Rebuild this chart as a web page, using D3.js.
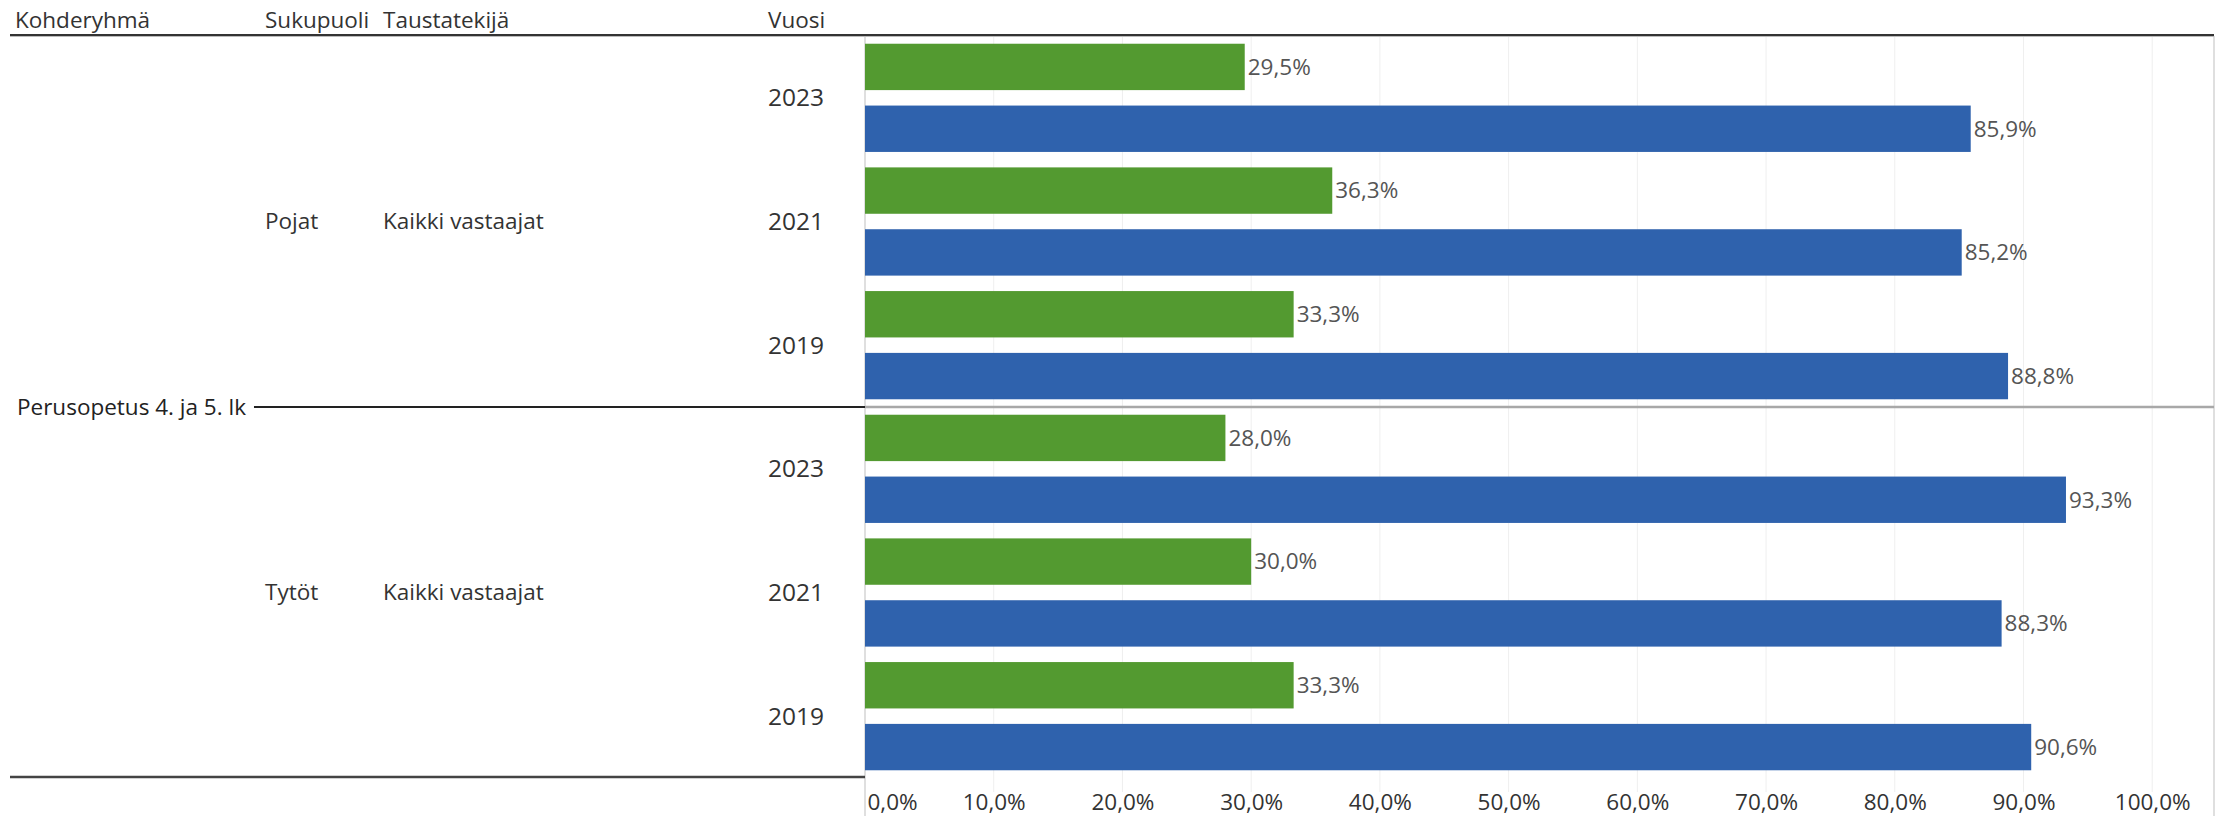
<!DOCTYPE html>
<html>
<head>
<meta charset="utf-8">
<script src="https://cdn.jsdelivr.net/npm/d3@7"></script>
<style>
  html, body { margin: 0; padding: 0; background: #ffffff; }
  svg { display: block; }
  text { font-family: "Open Sans", "Noto Sans", sans-serif; }
</style>
</head>
<body>
<svg id="chart" width="2223" height="816"></svg>
<script>
// ---- Data ----
const targetGroup = "Perusopetus 4. ja 5. lk";
const genders = ["Pojat", "Tytöt"];
const background = "Kaikki vastaajat";
const years = ["2023", "2021", "2019"];
const headers = ["Kohderyhmä", "Sukupuoli", "Taustatekijä", "Vuosi"];
// green series (upper bar in each year) and blue series (lower bar), percent
const greenPojat = [29.5, 36.3, 33.3];
const bluePojat  = [85.9, 85.2, 88.8];
const greenTytot = [28.0, 30.0, 33.3];
const blueTytot  = [93.3, 88.3, 90.6];
const tickValues = [0, 10, 20, 30, 40, 50, 60, 70, 80, 90, 100];

const greenColor = "#539a30";
const blueColor = "#2f62ad";
const FS = 22.5;

// build rows
const rows = [];
genders.forEach((g, gi) => {
  const gv = gi === 0 ? greenPojat : greenTytot;
  const bv = gi === 0 ? bluePojat : blueTytot;
  years.forEach((y, yi) => {
    rows.push({gender: g, year: y, series: "green", value: gv[yi]});
    rows.push({gender: g, year: y, series: "blue", value: bv[yi]});
  });
});
rows.forEach((r, i) => r.key = i);

const svg = d3.select("#chart");
const panelLeft = 865, panelTop = 36, panelBottom = 778;
const xMax = 104.8;
const x = d3.scaleLinear().domain([0, xMax]).range([panelLeft, 2214]);
const y = d3.scaleBand().domain(rows.map(r => r.key)).range([panelTop, panelBottom])
  .paddingInner(0.25).paddingOuter(0.125);
const half = (panelBottom - panelTop) / 2;
const midY = panelTop + half;

const fmt = v => d3.format(".1f")(v).replace(".", ",") + "%";

// gridlines
svg.append("g").selectAll("line").data(tickValues.filter(t => t > 0)).join("line")
  .attr("x1", d => x(d)).attr("x2", d => x(d))
  .attr("y1", panelTop).attr("y2", 792)
  .attr("stroke", "#efefef").attr("stroke-width", 1);

// panel borders
svg.append("line").attr("x1", panelLeft).attr("x2", panelLeft)
  .attr("y1", panelTop).attr("y2", 816).attr("stroke", "#d4d4d4").attr("stroke-width", 1.5);
svg.append("line").attr("x1", x(xMax)).attr("x2", x(xMax))
  .attr("y1", panelTop).attr("y2", 816).attr("stroke", "#d4d4d4").attr("stroke-width", 1.5);

// header line
svg.append("line").attr("x1", 10).attr("x2", x(xMax)).attr("y1", 35).attr("y2", 35)
  .attr("stroke", "#333").attr("stroke-width", 2);
svg.append("line").attr("x1", 10).attr("x2", x(xMax)).attr("y1", 36.5).attr("y2", 36.5)
  .attr("stroke", "#bbb").attr("stroke-width", 1);

// headers
const headerX = [15, 265, 383, 768];
svg.append("g").selectAll("text").data(headers).join("text")
  .attr("x", (d, i) => headerX[i]).attr("y", 28)
  .attr("font-size", FS).attr("fill", "#333").text(d => d);

// bars
svg.append("g").selectAll("rect").data(rows).join("rect")
  .attr("x", x(0)).attr("y", d => y(d.key))
  .attr("width", d => x(d.value) - x(0)).attr("height", y.bandwidth())
  .attr("fill", d => d.series === "green" ? greenColor : blueColor);

// value labels
svg.append("g").selectAll("text").data(rows).join("text")
  .attr("x", d => x(d.value) + 3).attr("y", d => y(d.key) + y.bandwidth() / 2)
  .attr("dy", "0.35em").attr("font-size", FS).attr("fill", "#555")
  .text(d => fmt(d.value));

// middle separator
svg.append("line").attr("x1", panelLeft).attr("x2", x(xMax)).attr("y1", midY).attr("y2", midY)
  .attr("stroke", "#a8a8a8").attr("stroke-width", 2.5);

// year labels
const yearRows = rows.filter(r => r.series === "green");
svg.append("g").selectAll("text").data(yearRows).join("text")
  .attr("x", 824).attr("y", d => y(d.key) + y.step() - (y.step() - y.bandwidth()) / 2)
  .attr("dy", "0.35em").attr("text-anchor", "end")
  .attr("font-size", 24.5).attr("fill", "#333").text(d => d.year);

// gender + background labels
genders.forEach((g, gi) => {
  const cy = panelTop + half * gi + half / 2;
  svg.append("text").attr("x", 265).attr("y", cy).attr("dy", "0.35em")
    .attr("font-size", FS).attr("fill", "#333").text(g);
  svg.append("text").attr("x", 383).attr("y", cy).attr("dy", "0.35em")
    .attr("font-size", FS).attr("fill", "#333").text(background);
});

// target group label with line
const tg = svg.append("text").attr("x", 17).attr("y", midY).attr("dy", "0.35em")
  .attr("font-size", FS).attr("fill", "#222").text(targetGroup);
const tgw = tg.node().getComputedTextLength();
svg.append("line").attr("x1", 17 + tgw + 8).attr("x2", panelLeft).attr("y1", midY).attr("y2", midY)
  .attr("stroke", "#222").attr("stroke-width", 2);

// bottom line
svg.append("line").attr("x1", 10).attr("x2", panelLeft).attr("y1", 777).attr("y2", 777)
  .attr("stroke", "#444").attr("stroke-width", 2.5);

// axis
const axis = d3.axisBottom(x).tickValues(tickValues).tickSize(0).tickFormat(fmt);
const ag = svg.append("g").attr("transform", `translate(0, 793)`).call(axis);
ag.select(".domain").remove();
ag.selectAll("text").attr("font-size", FS).attr("fill", "#333")
  .attr("font-family", "Open Sans, Noto Sans, sans-serif").attr("dy", "0.6em");
ag.selectAll(".tick").filter(d => d === 0).select("text").attr("text-anchor", "start").attr("x", 2);
</script>
</body>
</html>
